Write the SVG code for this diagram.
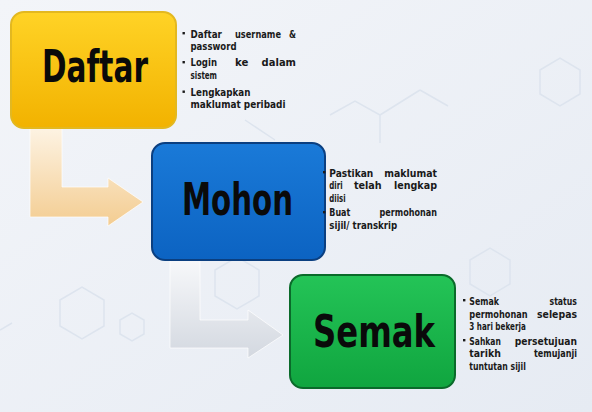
<svg xmlns="http://www.w3.org/2000/svg" width="592" height="412" viewBox="0 0 592 412">
<defs>
<linearGradient id="bg" x1="0" y1="0" x2="1" y2="1"><stop offset="0" stop-color="#f3f5f9"/><stop offset="1" stop-color="#e6ebf3"/></linearGradient>
<linearGradient id="gY" x1="0" y1="0" x2="0" y2="1"><stop offset="0" stop-color="#ffd326"/><stop offset="1" stop-color="#f2b200"/></linearGradient>
<linearGradient id="gB" x1="0" y1="0" x2="0" y2="1"><stop offset="0" stop-color="#1a7ad8"/><stop offset="1" stop-color="#0c63c2"/></linearGradient>
<linearGradient id="gG" x1="0" y1="0" x2="0" y2="1"><stop offset="0" stop-color="#24c457"/><stop offset="1" stop-color="#10a53f"/></linearGradient>
<linearGradient id="gO" x1="0" y1="128" x2="0" y2="227" gradientUnits="userSpaceOnUse"><stop offset="0" stop-color="#fdf3e3"/><stop offset="1" stop-color="#f3cc90"/></linearGradient>
<linearGradient id="gS" x1="0" y1="260" x2="0" y2="358" gradientUnits="userSpaceOnUse"><stop offset="0" stop-color="#f7f8fa"/><stop offset="1" stop-color="#d3d8e0"/></linearGradient>
<style>
.t{font-family:"DejaVu Sans","Liberation Sans",sans-serif;font-weight:bold;fill:#0a0a0a}
.ttl{font-size:44px}
.d{font-size:11px;fill:#1a1a1a}
.hex{fill:none;stroke:#dde4ee;stroke-width:1.5}
.box{stroke-width:2}
.bl{fill:#1a1a1a}
</style>
</defs>
<rect width="592" height="412" fill="url(#bg)"/>
<g id="background">
<path class="hex" d="M330,115 l25,-14 l25,14 v28 M380,115 l40,-25 M420,90 l28,16"/>
<path class="hex" d="M470,260 l20,-12 l20,12 v24 l-20,12 l-20,-12 z"/>
<path class="hex" d="M60,300 l22,-13 l22,13 v26 l-22,13 l-22,-13 z"/>
<path class="hex" d="M120,320 l12,-7 l12,7 v14 l-12,7 l-12,-7 z"/>
<path class="hex" d="M215,270 l22,-13 l22,13 v26 l-22,13 l-22,-13 z"/>
<path class="hex" d="M540,70 l20,-12 l20,12 v24 l-20,12 l-20,-12 z"/>
<path class="hex" d="M0,330 l12,-7 M245,120 l30,20"/>
</g>
<g id="connectors">
<path d="M30,128 H62 V187 H108 V178 L143,202 L108,226 V217 H30 Z" fill="url(#gO)" stroke="#ffffff" stroke-width="1" stroke-opacity="0.7"/>
<path d="M170,260 H200 V320 H248 V310 L283,335 L248,358 V348 H170 Z" fill="url(#gS)" stroke="#ffffff" stroke-width="1" stroke-opacity="0.7"/>
</g>
<g id="node-daftar">
<rect class="box" x="11" y="12" width="165" height="116" rx="13" fill="url(#gY)" stroke="#e3b820"/>
<text class="t ttl" x="42" y="82" textLength="106" lengthAdjust="spacingAndGlyphs">Daftar</text>
<rect class="bl" x="182.5" y="32" width="2.4" height="2.4"/>
<rect class="bl" x="182.5" y="61" width="2.4" height="2.4"/>
<rect class="bl" x="182.5" y="90.5" width="2.4" height="2.4"/>
<text class="t d" x="190.5" y="37.5" textLength="31.4" lengthAdjust="spacingAndGlyphs">Daftar</text>
<text class="t d" x="235" y="37.5" textLength="46" lengthAdjust="spacingAndGlyphs">username</text>
<text class="t d" x="289" y="37.5" textLength="7" lengthAdjust="spacingAndGlyphs">&amp;</text>
<text class="t d" x="190.5" y="50" textLength="46" lengthAdjust="spacingAndGlyphs">password</text>
<text class="t d" x="190.5" y="66" textLength="26.5" lengthAdjust="spacingAndGlyphs">Login</text>
<text class="t d" x="235" y="66" textLength="13.4" lengthAdjust="spacingAndGlyphs">ke</text>
<text class="t d" x="261.6" y="66" textLength="34.4" lengthAdjust="spacingAndGlyphs">dalam</text>
<text class="t d" x="190.5" y="78.5" textLength="26.5" lengthAdjust="spacingAndGlyphs">sistem</text>
<text class="t d" x="190.5" y="95.5" textLength="60" lengthAdjust="spacingAndGlyphs">Lengkapkan</text>
<text class="t d" x="190.5" y="108" textLength="95" lengthAdjust="spacingAndGlyphs">maklumat peribadi</text>
</g>
<g id="node-mohon">
<rect class="box" x="152" y="143" width="173" height="117" rx="13" fill="url(#gB)" stroke="#0b3f80"/>
<text class="t ttl" x="182" y="215" textLength="111" lengthAdjust="spacingAndGlyphs">Mohon</text>
<rect class="bl" x="323" y="171" width="2.4" height="2.4"/>
<rect class="bl" x="323" y="211" width="2.4" height="2.4"/>
<text class="t d" x="329.3" y="176.5" textLength="44" lengthAdjust="spacingAndGlyphs">Pastikan</text>
<text class="t d" x="384.3" y="176.5" textLength="52.7" lengthAdjust="spacingAndGlyphs">maklumat</text>
<text class="t d" x="329.3" y="189" textLength="13.4" lengthAdjust="spacingAndGlyphs">diri</text>
<text class="t d" x="353.9" y="189" textLength="27.8" lengthAdjust="spacingAndGlyphs">telah</text>
<text class="t d" x="393.9" y="189" textLength="43.1" lengthAdjust="spacingAndGlyphs">lengkap</text>
<text class="t d" x="329.3" y="201.5" textLength="16.3" lengthAdjust="spacingAndGlyphs">diisi</text>
<text class="t d" x="329.3" y="216" textLength="21" lengthAdjust="spacingAndGlyphs">Buat</text>
<text class="t d" x="379.5" y="216" textLength="57.5" lengthAdjust="spacingAndGlyphs">permohonan</text>
<text class="t d" x="329.3" y="228.5" textLength="68" lengthAdjust="spacingAndGlyphs">sijil/ transkrip</text>
</g>
<g id="node-semak">
<rect class="box" x="290" y="275" width="165" height="113" rx="13" fill="url(#gG)" stroke="#0a6a2a"/>
<text class="t ttl" x="313" y="347" textLength="122" lengthAdjust="spacingAndGlyphs">Semak</text>
<rect class="bl" x="463" y="299" width="2.4" height="2.4"/>
<rect class="bl" x="463" y="339" width="2.4" height="2.4"/>
<text class="t d" x="469.3" y="304.5" textLength="29.7" lengthAdjust="spacingAndGlyphs">Semak</text>
<text class="t d" x="549.5" y="304.5" textLength="27.5" lengthAdjust="spacingAndGlyphs">status</text>
<text class="t d" x="469.3" y="317.5" textLength="58.4" lengthAdjust="spacingAndGlyphs">permohonan</text>
<text class="t d" x="537" y="317.5" textLength="40" lengthAdjust="spacingAndGlyphs">selepas</text>
<text class="t d" x="469.3" y="330" textLength="56.5" lengthAdjust="spacingAndGlyphs">3 hari bekerja</text>
<text class="t d" x="469.3" y="344.5" textLength="31.6" lengthAdjust="spacingAndGlyphs">Sahkan</text>
<text class="t d" x="514.7" y="344.5" textLength="62.3" lengthAdjust="spacingAndGlyphs">persetujuan</text>
<text class="t d" x="469.3" y="357" textLength="31.6" lengthAdjust="spacingAndGlyphs">tarikh</text>
<text class="t d" x="533.9" y="357" textLength="43.1" lengthAdjust="spacingAndGlyphs">temujanji</text>
<text class="t d" x="469.3" y="370" textLength="56.5" lengthAdjust="spacingAndGlyphs">tuntutan sijil</text>
</g>
</svg>
